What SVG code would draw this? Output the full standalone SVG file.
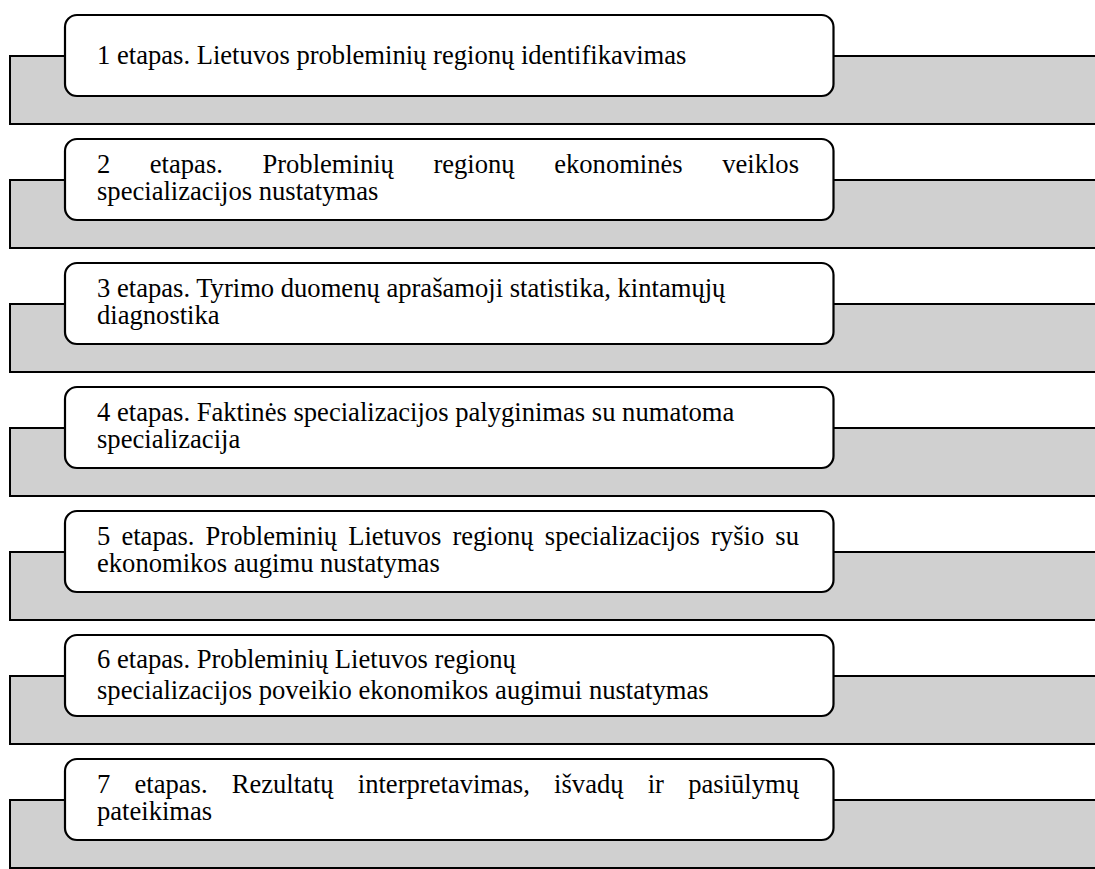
<svg xmlns="http://www.w3.org/2000/svg" width="1095" height="869" viewBox="0 0 1095 869">
<style>
.band{fill:#d0d0d0;stroke:#000;stroke-width:2}
.box{fill:#fff;stroke:#000;stroke-width:2.2}
.t{font-family:"Liberation Serif","Times New Roman",serif;font-size:26.6px;fill:#000}
</style>
<defs>
<rect id="bandshape" class="band" x="10" y="41" width="1100" height="68"/>
<rect id="boxshape" class="box" x="65" y="0" width="768.5" height="81" rx="12" ry="12"/>
</defs>
<rect x="0" y="0" width="1095" height="869" fill="#fff"/>
<g id="connectors"></g>

<g id="step1" transform="translate(0,15)">
<use href="#bandshape"/><use href="#boxshape"/>
<text class="t" x="97" y="49">1 etapas. Lietuvos probleminių regionų identifikavimas</text>
</g>

<g id="step2" transform="translate(0,139)">
<use href="#bandshape"/><use href="#boxshape"/>
<text class="t" y="34"><tspan x="97">2</tspan><tspan x="149.8">etapas.</tspan><tspan x="262.4">Probleminių</tspan><tspan x="433.4">regionų</tspan><tspan x="554.2">ekonominės</tspan><tspan x="799" text-anchor="end">veiklos</tspan></text>
<text class="t" x="97" y="60.5">specializacijos nustatymas</text>
</g>

<g id="step3" transform="translate(0,263)">
<use href="#bandshape"/><use href="#boxshape"/>
<text class="t" x="97" y="34">3 etapas. Tyrimo duomenų aprašamoji statistika, kintamųjų</text>
<text class="t" x="97" y="60.5">diagnostika</text>
</g>

<g id="step4" transform="translate(0,387)">
<use href="#bandshape"/><use href="#boxshape"/>
<text class="t" x="97" y="34">4 etapas. Faktinės specializacijos palyginimas su numatoma</text>
<text class="t" x="97" y="60.5">specializacija</text>
</g>

<g id="step5" transform="translate(0,511)">
<use href="#bandshape"/><use href="#boxshape"/>
<text class="t" y="34"><tspan x="97">5</tspan><tspan x="121.4">etapas.</tspan><tspan x="205.6">Probleminių</tspan><tspan x="348.2">Lietuvos</tspan><tspan x="452.4">regionų</tspan><tspan x="544.8">specializacijos</tspan><tspan x="711">ryšio</tspan><tspan x="799" text-anchor="end">su</tspan></text>
<text class="t" x="97" y="60.5">ekonomikos augimu nustatymas</text>
</g>

<g id="step6" transform="translate(0,635)">
<use href="#bandshape"/><use href="#boxshape"/>
<text class="t" x="97" y="33">6 etapas. Probleminių Lietuvos regionų</text>
<text class="t" x="97" y="63.5">specializacijos poveikio ekonomikos augimui nustatymas</text>
</g>

<g id="step7" transform="translate(0,759)">
<use href="#bandshape"/><use href="#boxshape"/>
<text class="t" y="34"><tspan x="97">7</tspan><tspan x="134.5">etapas.</tspan><tspan x="231.7">Rezultatų</tspan><tspan x="357.8">interpretavimas,</tspan><tspan x="554.1">išvadų</tspan><tspan x="647.7">ir</tspan><tspan x="799" text-anchor="end">pasiūlymų</tspan></text>
<text class="t" x="97" y="60.5">pateikimas</text>
</g>
</svg>
